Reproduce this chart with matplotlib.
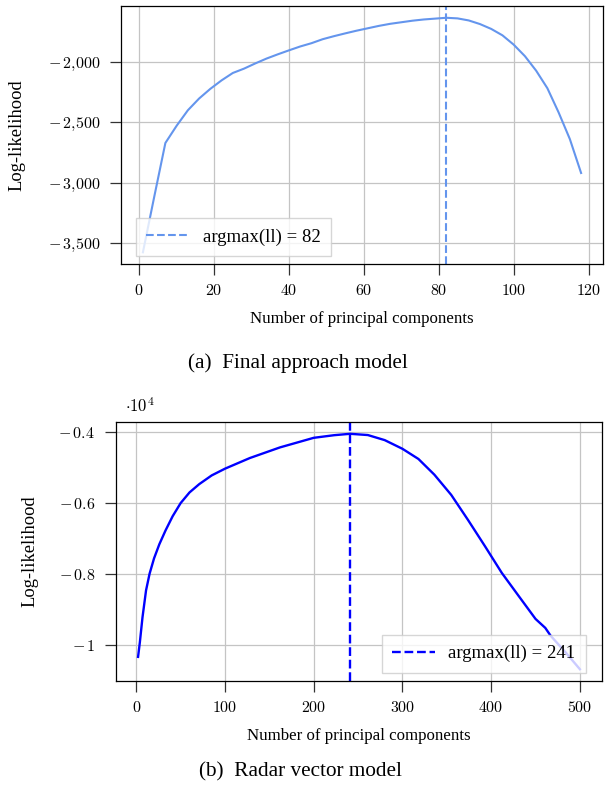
#!/usr/bin/env python3
# Log-likelihood vs number of principal components, two models stacked.

import matplotlib
matplotlib.use('Agg')
from matplotlib import pyplot as plt, ticker


# (a) final approach model
fa_ncomp = [1, 4, 7, 10, 13, 16, 19, 22, 25, 28, 31, 34, 37, 40, 43, 46, 49, 52, 55, 58,
            61, 64, 67, 70, 73, 76, 79, 82, 85, 88, 91, 94, 97, 100, 103, 106, 109, 112, 115, 118]
fa_ll = [-3575, -3120, -2672, -2530, -2402, -2305, -2225, -2155, -2094, -2058,
         -2015, -1975, -1940, -1907, -1875, -1848, -1815, -1790, -1767, -1745,
         -1725, -1705, -1688, -1675, -1662, -1652, -1645, -1638, -1643, -1660,
         -1690, -1730, -1783, -1860, -1955, -2075, -2220, -2420, -2640, -2920]
fa_argmax = 82

# (b) radar vector model
rv_ncomp = [2, 4, 7, 11, 15, 20, 26, 33, 41, 50, 60, 71, 85, 100, 128, 162, 200, 223,
            241, 261, 280, 300, 318, 336, 355, 374, 393, 412, 431, 450, 461, 467, 484, 500]
rv_ll = [-10347, -9940, -9230, -8470, -8000, -7570, -7170, -6780, -6380, -6010, -5710,
         -5475, -5230, -5040, -4740, -4440, -4170, -4096, -4057, -4092, -4235, -4480,
         -4766, -5210, -5780, -6490, -7226, -7980, -8630, -9277, -9530, -9750, -10224,
         -10695]
rv_argmax = 241

fa_yticks = [-2000, -2500, -3000, -3500]
rv_yticks = [-4000, -6000, -8000, -10000]


plt.rcParams['font.family'] = 'serif'
plt.rcParams['font.serif'] = ['Liberation Serif', 'DejaVu Serif']
plt.rcParams['mathtext.fontset'] = 'cm'


def style_axes(ax, xticks, yticks, yfmt, ylab_x):
    ax.set_xticks(xticks)
    ax.set_yticks(yticks)
    ax.xaxis.set_major_formatter(ticker.FuncFormatter(lambda v, p: r'$%d$' % v))
    ax.yaxis.set_major_formatter(ticker.FuncFormatter(yfmt))
    ax.grid(True, color='#c4c4c4', lw=0.9)
    ax.set_axisbelow(True)
    ax.tick_params(which='both', direction='out', length=8, width=0.9, color='#333333',
                   labelsize=11.5)
    ax.tick_params(axis='y', pad=7)
    ax.tick_params(axis='x', pad=6)
    for sp in ax.spines.values():
        sp.set_linewidth(0.9)
        sp.set_color('black')
    ax.set_xlabel('Number of principal components', fontsize=12.2, labelpad=8)
    ax.set_ylabel('Log-likelihood', fontsize=13.3)
    ax.yaxis.set_label_coords(ylab_x, 0.5)


def enlarge(vals, frac=0.05):
    lo, hi = min(vals), max(vals)
    d = (hi - lo) * frac
    return lo - d, hi + d


leg_kw = dict(borderaxespad=0, fontsize=13.5, fancybox=False, framealpha=0.8,
              edgecolor='#cccccc', handlelength=2.3, handletextpad=0.7, borderpad=0.55)

fig = plt.figure(figsize=(6.05, 7.96), dpi=100)

# top panel
ax1 = fig.add_axes([0.200, 0.6683, 0.7967, 0.3241])
ax1.plot(fa_ncomp, fa_ll, color='#6495ED', lw=1.5)
ax1.axvline(fa_argmax, color='#6495ED', lw=1.5, ls='--',
            label='argmax(ll) = {}'.format(fa_argmax))
ax1.set_xlim(*enlarge(fa_ncomp))
ax1.set_ylim(*enlarge(fa_ll))
style_axes(ax1, [0, 20, 40, 60, 80, 100, 120], fa_yticks,
           lambda v, p: r'$-\,%s$' % '{,}'.join(f'{abs(v):,.0f}'.split(',')), -0.199)
ax1.legend(loc='lower left', bbox_to_anchor=(0.031, 0.031), **leg_kw)

# bottom panel
ax2 = fig.add_axes([0.1917, 0.1445, 0.8033, 0.3253])
ax2.plot(rv_ncomp, rv_ll, color='blue', lw=1.7)
ax2.axvline(rv_argmax, color='blue', lw=1.7, ls='--',
            label='argmax(ll) = {}'.format(rv_argmax))
ax2.set_xlim(*enlarge(rv_ncomp))
ax2.set_ylim(*enlarge(rv_ll))
style_axes(ax2, [0, 100, 200, 300, 400, 500], rv_yticks,
           lambda v, p: r'$-\,%g$' % abs(v / 1e4), -0.160)
ax2.text(0.018, 1.025, r'$\cdot10^{4}$', transform=ax2.transAxes, fontsize=12,
         ha='left', va='bottom')
ax2.legend(loc='lower right', bbox_to_anchor=(0.967, 0.032), **leg_kw)

fig.text(0.493, 1 - 363 / 796, '(a)  Final approach model', ha='center', va='center',
         fontsize=15.3)
fig.text(0.496, 1 - 772 / 796, '(b)  Radar vector model', ha='center', va='center',
         fontsize=15.3)

fig.savefig('out.png', dpi=100)
